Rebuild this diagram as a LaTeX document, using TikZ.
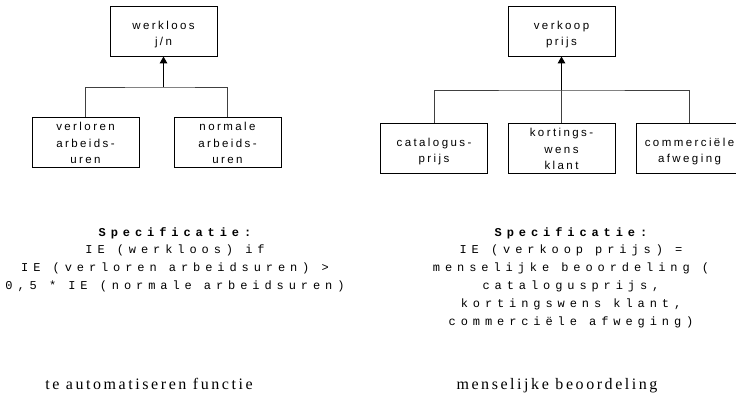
\documentclass[tikz,border=0pt]{standalone}
\usepackage{fontspec}
\newfontfamily\boxfont[LetterSpace=21]{Liberation Sans}
\newfontfamily\specfont[LetterSpace=41]{Liberation Mono}
\newfontfamily\capfont[LetterSpace=16]{Liberation Serif}
\usetikzlibrary{arrows.meta}
\begin{document}
\begin{tikzpicture}[x=1pt,y=-1pt,
  box/.style={draw=black,line width=0.9pt,minimum width=107pt,minimum height=50pt,inner sep=0pt},
  boxtext/.style={inner sep=0pt,align=center,yshift=-3.5pt,font=\boxfont\fontsize{11.5}{16.3}\selectfont},
  boxtextb/.style={boxtext,yshift=2.5pt},
  bus/.style={draw=black!75,line width=0.8pt},
  up/.style={draw=black,line width=1.4pt,-{Triangle[width=7.5pt,length=7pt]}},
  spec/.style={align=center,anchor=north,font=\specfont\fontsize{12}{17.8}\selectfont,inner sep=0pt},
  captext/.style={font=\capfont\fontsize{16}{18}\selectfont,inner sep=0pt,anchor=base}]
\fill[white] (0,0) rectangle (736,392);
\clip (0,0) rectangle (736,392);
% left tree
\node[box] (werk) at (163.5,31) {};
\node[boxtext] (werkT) at (werk.center) {werkloos\\j/n};
\node[box] (verl) at (85.5,142) {};
\node[boxtextb] (verlT) at (verl.center) {verloren\\arbeids-\\uren};
\node[box] (norm) at (227.5,142) {};
\node[boxtextb] (normT) at (norm.center) {normale\\arbeids-\\uren};
\coordinate (busL) at (163.5,87);
\draw[bus] (verl.north) |- (busL) -| (norm.north);
\draw[up] (busL) -- (werk.south);
% right tree
\node[box] (verk) at (561.5,31) {};
\node[boxtext] (verkT) at (verk.center) {verkoop\\prijs};
\node[box] (cata) at (434,148) {};
\node[boxtext] (cataT) at (cata.center) {catalogus-\\prijs};
\node[box] (kort) at (561.5,148) {};
\node[boxtextb] (kortT) at (kort.center) {kortings-\\wens\\klant};
\node[box] (comm) at (689.5,148) {};
\node[boxtext] (commT) at (comm.center) {commerciële\\afweging};
\coordinate (busR) at (561.5,90);
\draw[bus] (cata.north) |- (busR) -| (comm.north);
\draw[bus] (kort.north) -- (busR);
\draw[up] (busR) -- (verk.south);
% specifications
\node[spec] (specL) at (175,227) {{\bfseries Specificatie:}\\IE (werkloos) if\\IE (verloren arbeidsuren) >\\0,5 * IE (normale arbeidsuren)};
\node[spec] (specR) at (571,227) {{\bfseries Specificatie:}\\IE (verkoop prijs) =\\menselijke beoordeling (\\catalogusprijs,\\kortingswens klant,\\commerciële afweging)};
% captions
\node[captext] (capL) at (149,389) {te automatiseren functie};
\node[captext] (capR) at (557,389) {menselijke beoordeling};
\end{tikzpicture}
\end{document}
